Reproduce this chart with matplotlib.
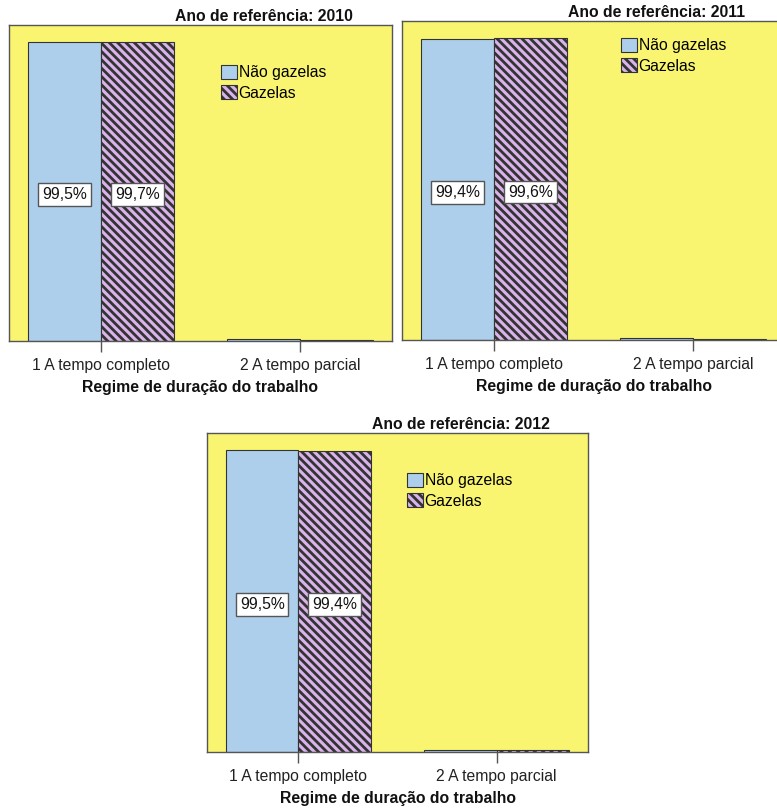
import matplotlib
matplotlib.use("Agg")
import matplotlib.pyplot as plt
import numpy as np

plt.rcParams['font.family'] = ['Liberation Sans', 'DejaVu Sans']
plt.rcParams['hatch.linewidth'] = 2.0
plt.rcParams['hatch.color'] = '#000000'

categories = ["1 A tempo completo", "2 A tempo parcial"]
series_names = ["Não gazelas", "Gazelas"]
years = ["2010", "2011", "2012"]
nao_gazelas = {"2010": [99.5, 0.5], "2011": [99.4, 0.6], "2012": [99.5, 0.5]}
gazelas = {"2010": [99.7, 0.3], "2011": [99.6, 0.4], "2012": [99.4, 0.6]}
labels_nao = {"2010": "99,5%", "2011": "99,4%", "2012": "99,5%"}
labels_gaz = {"2010": "99,7%", "2011": "99,6%", "2012": "99,4%"}

W, H = 777, 809
fig = plt.figure(figsize=(W / 100, H / 100), dpi=100)

YELLOW = '#F9F571'
BLUE = '#AECFEB'
PURPLE = '#D9B3EA'
EDGE = '#333333'
FS = 11.3

# panel geometry in pixels: left, top, width, height, legend offset (dx, dy from axes top-left)
panels = {
    "2010": (9, 25, 383, 316, (212, 40)),
    "2011": (402, 21, 383, 319, (219, 17)),
    "2012": (207, 433, 381, 319, (200, 40)),
}

bw = 0.367
x = np.arange(len(categories))

for yr in years:
    l, t, w, h, (ldx, ldy) = panels[yr]
    ax = fig.add_axes([l / W, 1 - (t + h) / H, w / W, h / H])
    ax.set_facecolor(YELLOW)
    b1 = ax.bar(x - bw / 2, nao_gazelas[yr], bw, color=BLUE, edgecolor=EDGE,
                linewidth=0.8, label=series_names[0])
    b2 = ax.bar(x + bw / 2, gazelas[yr], bw, color=PURPLE, edgecolor=EDGE,
                linewidth=0.8, hatch='\\\\\\\\', label=series_names[1])
    ax.set_xlim(-0.462, 1.462)
    ax.set_ylim(0, 105.2)
    ax.set_yticks([])
    ax.set_xticks(x)
    ax.set_xticklabels(categories, fontsize=FS, color='#222222')
    ax.tick_params(axis='x', length=8, width=1, color='#555555', pad=4)
    for s in ax.spines.values():
        s.set_color('#555555')
        s.set_linewidth(1)
    bbox = dict(boxstyle='square,pad=0.25', facecolor='white', edgecolor='#555555', linewidth=1)
    ax.text(x[0] - bw / 2, nao_gazelas[yr][0] / 2 - 1, labels_nao[yr], ha='center', va='center',
            fontsize=FS, bbox=bbox, color='#111111')
    ax.text(x[0] + bw / 2, gazelas[yr][0] / 2 - 1, labels_gaz[yr], ha='center', va='center',
            fontsize=FS, bbox=bbox, color='#111111')
    ax.set_xlabel("Regime de duração do trabalho", fontsize=FS, fontweight='bold',
                  labelpad=5, color='#111111')
    ax.text(0.5 + 63 / w, 1 + 4 / h, f"Ano de referência: {yr}", transform=ax.transAxes,
            ha='center', va='baseline', fontsize=FS, fontweight='bold', color='#111111')
    ax.legend(handles=[b1, b2], loc='upper left', bbox_to_anchor=(ldx / w, 1 - ldy / h),
              frameon=False, fontsize=FS, borderpad=0, borderaxespad=0,
              handlelength=1.0, handleheight=1.0, handletextpad=0.12, labelspacing=0.3)

fig.savefig("out.png", dpi=100, facecolor='white')
